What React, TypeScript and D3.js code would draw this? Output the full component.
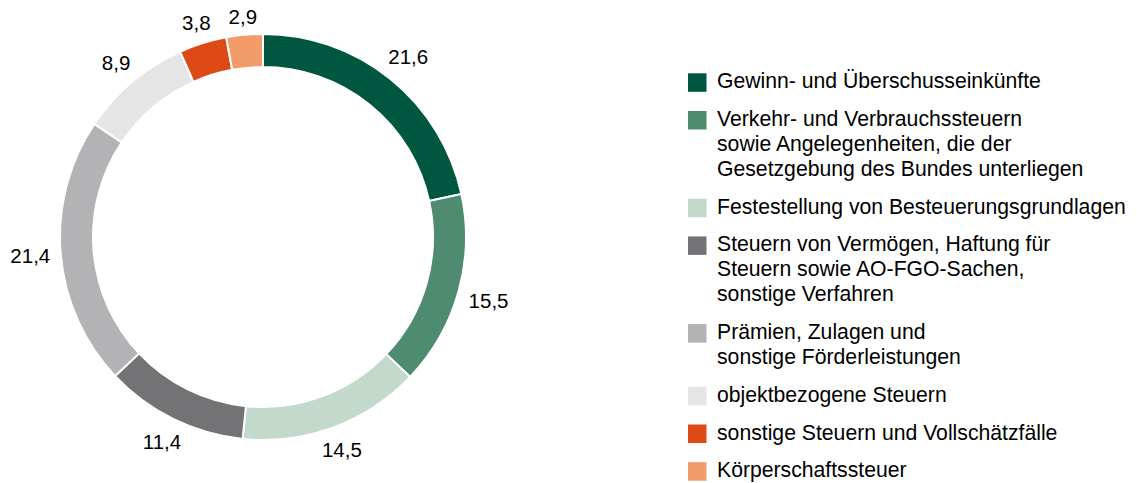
import React, { useEffect, useRef } from "react";
import * as d3 from "d3";

// Kategorien (Legende, mit Zeilenumbrüchen wie im Original)
const categories = [
  "Gewinn- und Überschusseinkünfte",
  "Verkehr- und Verbrauchssteuern\nsowie Angelegenheiten, die der\nGesetzgebung des Bundes unterliegen",
  "Festestellung von Besteuerungsgrundlagen",
  "Steuern von Vermögen, Haftung für\nSteuern sowie AO-FGO-Sachen,\nsonstige Verfahren",
  "Prämien, Zulagen und\nsonstige Förderleistungen",
  "objektbezogene Steuern",
  "sonstige Steuern und Vollschätzfälle",
  "Körperschaftssteuer",
];

// Anteile in Prozent
const values = [21.6, 15.5, 14.5, 11.4, 21.4, 8.9, 3.8, 2.9];

const colors = [
  "#00573f",
  "#4f8b71",
  "#c2d9cc",
  "#737375",
  "#b3b3b5",
  "#e5e5e5",
  "#de4a16",
  "#f29c6a",
];

const WIDTH = 1137;
const HEIGHT = 483;
const FONT = "'Liberation Sans', Arial, Helvetica, sans-serif";

export default function App() {
  const svgRef = useRef<SVGSVGElement | null>(null);

  useEffect(() => {
    const svg = d3.select(svgRef.current);
    svg.selectAll("*").remove();

    const cx = 263;
    const cy = 237;
    const outerR = 203;
    const innerR = 170;
    const labelGap = 10;

    const data = values.map((v, i) => ({ value: v, name: categories[i], color: colors[i] }));

    const pie = d3
      .pie<any>()
      .value((d) => d.value)
      .sort(null)
      .startAngle(0)
      .endAngle(2 * Math.PI);

    const arcs = pie(data);
    const arc = d3.arc<any>().innerRadius(innerR).outerRadius(outerR);

    const g = svg.append("g").attr("transform", `translate(${cx},${cy})`);

    // Ringsegmente
    g.selectAll("path")
      .data(arcs)
      .join("path")
      .attr("d", arc)
      .attr("fill", (d) => d.data.color)
      .attr("stroke", "#fff")
      .attr("stroke-width", 2);

    // Werte außen: Abstand vom Ring hängt von der Textbreite ab
    const fmt = (v: number) => d3.format(".1f")(v).replace(".", ",");
    g.selectAll("text.val")
      .data(arcs)
      .join("text")
      .attr("class", "val")
      .attr("text-anchor", "middle")
      .attr("dy", "0.36em")
      .attr("font-family", FONT)
      .attr("font-size", 20.5)
      .attr("fill", "#000")
      .text((d) => fmt(d.data.value))
      .attr("transform", function (d) {
        const a = (d.startAngle + d.endAngle) / 2;
        const hw = (this as SVGTextElement).getComputedTextLength() / 2;
        const hh = 7.5;
        const r = outerR + labelGap + hw * Math.abs(Math.sin(a)) + hh * Math.abs(Math.cos(a));
        return `translate(${r * Math.sin(a)},${-r * Math.cos(a)})`;
      });

    // Legende
    const legX = 688;
    const legTextX = 717;
    const sq = 18.5;
    const lineH = 25;
    const itemGap = 12.7;
    let y = 73.3;

    const leg = svg.append("g");
    data.forEach((d) => {
      const lines = d.name.split("\n");
      leg
        .append("rect")
        .attr("x", legX)
        .attr("y", y)
        .attr("width", sq)
        .attr("height", sq)
        .attr("fill", d.color);
      const t = leg
        .append("text")
        .attr("x", legTextX)
        .attr("y", y + 15)
        .attr("font-family", FONT)
        .attr("font-size", 21.2)
        .attr("fill", "#000");
      lines.forEach((ln, j) => {
        t.append("tspan")
          .attr("x", legTextX)
          .attr("dy", j === 0 ? 0 : lineH)
          .text(ln);
      });
      y += lines.length * lineH + itemGap;
    });
  }, []);

  return (
    <div style={{ position: "fixed", left: 0, top: 0, background: "#fff" }}>
      <svg ref={svgRef} width={WIDTH} height={HEIGHT} />
    </div>
  );
}
